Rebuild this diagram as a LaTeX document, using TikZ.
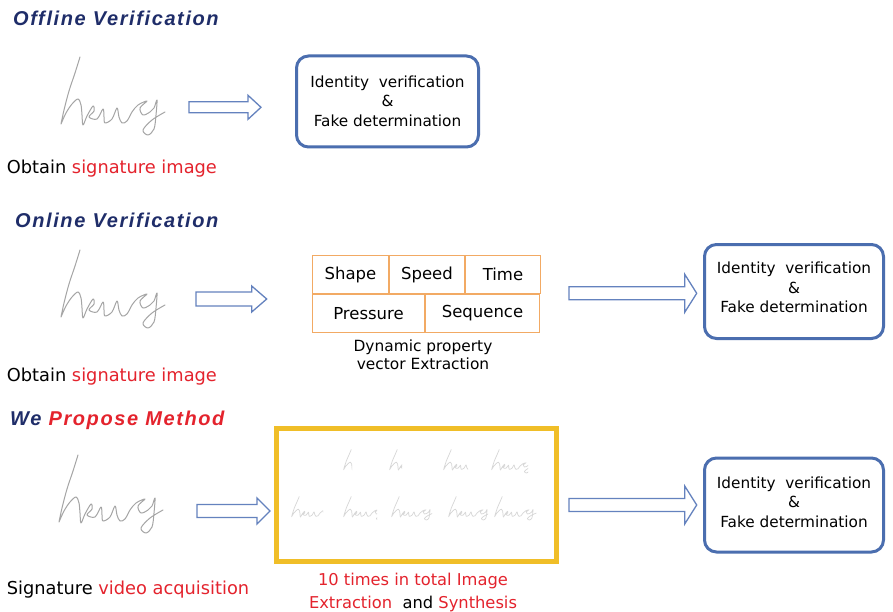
\documentclass[tikz,border=0pt]{standalone}
\usepackage{fontspec}
\setmainfont{DejaVu Sans}
\newfontfamily\titlefont[LetterSpace=8]{Liberation Sans}
\usetikzlibrary{calc}
\definecolor{navy}{RGB}{31,45,105}
\definecolor{redtxt}{RGB}{228,35,45}
\definecolor{boxblue}{RGB}{75,110,175}
\definecolor{arrowblue}{RGB}{100,130,190}
\definecolor{tableorange}{RGB}{242,170,100}
\definecolor{gold}{RGB}{240,190,40}
\definecolor{sigcol}{RGB}{165,165,165}
\definecolor{faintsig}{RGB}{215,215,215}
\tikzset{
  headtxt/.style={anchor=base west, inner sep=0pt, text=navy,
    font=\titlefont\bfseries\itshape\fontsize{20}{22}\selectfont},
  sublabel/.style={anchor=base west, inner sep=0pt, font=\fontsize{17.8}{20}\selectfont},
  resultbox/.style={draw=boxblue, line width=3pt, rounded corners=12pt, inner sep=0pt},
  boxtxt/.style={align=center, inner sep=0pt, font=\fontsize{15.3}{19.5}\selectfont},
  cell/.style={draw=tableorange, line width=1pt, minimum height=38pt,
    inner sep=0pt, anchor=north west, font=\fontsize{16.5}{18}\selectfont},
  captxt/.style={anchor=base, inner sep=0pt, font=\fontsize{15.4}{18}\selectfont},
  redcap/.style={anchor=base, inner sep=0pt, text=redtxt, font=\fontsize{16.3}{18}\selectfont},
  blockarrow/.style={draw=arrowblue, line width=1.3pt, fill=white, line join=miter},
  sigline/.style={draw=sigcol, line width=1pt, line cap=round, line join=round},
  faintline/.style={draw=faintsig, line width=0.7pt, line cap=round, line join=round},
}
\newcommand{\hongsig}[2]{%
  \draw[#1] plot[smooth, tension=0.55] coordinates {(28,2) (23,18) (17,36) (12,55) (9,69)}
    plot[smooth, tension=0.55] coordinates {(9,69) (14,58) (20,49) (26,44) (29,50) (30,60) (31,70)
      (35,61) (41,51) (42,56) (37,62) (45,64) (51,54) (52,62) (53,68) (60,64) (65,53) (67,62)
      (70,68) (75,66) (80,57) (86,50) (95,46) (88,53) (91,60) (98,57) (102,53) (105,45)
      (104,60) (102,74) (96,80) (91,75) (100,65) (113,57)};}
\newcommand{\blockarr}[5]{%
  \draw[blockarrow] ($(#1)+(0,#3)$) -- ($(#2)+(-#5,#3)$) -- ($(#2)+(-#5,#4)$) -- (#2)
    -- ($(#2)+(-#5,-#4)$) -- ($(#2)+(-#5,-#3)$) -- ($(#1)+(0,-#3)$) -- cycle;}
\newcommand{\faintfrag}[3]{%
  \begin{scope}
    \clip (#1,#2) rectangle ++(#3,30);
    \hongsig{faintline, shift={(#1,#2)}, xscale=0.4, yscale=0.3}{}
  \end{scope}}
\begin{document}
\begin{tikzpicture}[x=1pt, y=-1pt]
\fill[white] (0,0) rectangle (893,612);
\useasboundingbox (0,0) rectangle (893,612);

% ---------- Offline ----------
\node[headtxt] (t1) at (13,26) {Offline Verification};
\hongsig{sigline, shift={(52,55)}}{}
\node[resultbox, minimum width=182pt, minimum height=91pt] (box1) at (387.5,101.5) {};
\node[boxtxt] (box1t) at ($(box1.center)+(0,-0.5)$) {Identity~ verification\\\&\\Fake determination};
\coordinate (a1s) at (189,107.3);
\coordinate (a1e) at (261,107.3);
\blockarr{a1s}{a1e}{5.5}{12}{13}
\node[sublabel] (l1) at (6.7,174) {Obtain \textcolor{redtxt}{signature image}};

% ---------- Online ----------
\node[headtxt] (t2) at (15,228) {Online Verification};
\hongsig{sigline, shift={(52,248)}}{}
\coordinate (a2s) at (196,299);
\coordinate (a2e) at (266.7,299);
\blockarr{a2s}{a2e}{7}{13}{15}
\node[cell, minimum width=76pt] (shape) at (312,255) {Shape};
\node[cell, minimum width=75pt] (speed) at (shape.north east) {Speed};
\node[cell, minimum width=75pt] (time) at (speed.north east) {Time};
\node[cell, minimum width=112pt] (press) at (shape.south west) {Pressure};
\node[cell, minimum width=114pt] (seq) at (press.north east) {Sequence};
\node[captxt] (d1) at (423,351.5) {Dynamic property};
\node[captxt] (d2) at (423,369.5) {vector Extraction};
\coordinate (a3s) at (569,293.3);
\coordinate (a3e) at (696.7,293.3);
\blockarr{a3s}{a3e}{6.5}{19}{12}
\node[resultbox, minimum width=179pt, minimum height=94pt] (box2) at (794,291.5) {};
\node[boxtxt] (box2t) at ($(box2.center)+(0,-4)$) {Identity~ verification\\\&\\Fake determination};
\node[sublabel] (l2) at (6.7,381.7) {Obtain \textcolor{redtxt}{signature image}};

% ---------- Proposed ----------
\node[headtxt] (t3) at (10,425) {We \textcolor{redtxt}{Propose Method}};
\hongsig{sigline, shift={(50,453)}}{}
\coordinate (a4s) at (197,511);
\coordinate (a4e) at (270,511);
\blockarr{a4s}{a4e}{6.5}{13}{13}
\node[draw=gold, line width=5pt, minimum width=280pt, minimum height=133pt, inner sep=0pt]
  (frames) at (416.5,495) {};
% faint frames, row 1
\faintfrag{340}{449}{12}
\faintfrag{386}{449}{16}
\faintfrag{440}{449}{28}
\faintfrag{488}{449}{40}
% faint frames, row 2
\faintfrag{288}{496}{35}
\faintfrag{340}{496}{37}
\faintfrag{388}{496}{44}
\faintfrag{445}{496}{43}
\faintfrag{491}{496}{52}
\node[redcap] (c1) at (413,585.7) {10 times in total Image};
\node[redcap] (c2) at (413,608) {Extraction~ \textcolor{black}{and} Synthesis};
\coordinate (a5s) at (569,505);
\coordinate (a5e) at (696.7,505);
\blockarr{a5s}{a5e}{6.5}{19}{12}
\node[resultbox, minimum width=179pt, minimum height=94pt] (box3) at (794,505) {};
\node[boxtxt] (box3t) at ($(box3.center)+(0,-3)$) {Identity~ verification\\\&\\Fake determination};
\node[sublabel] (l3) at (6.7,594.5) {Signature \textcolor{redtxt}{video acquisition}};
\end{tikzpicture}
\end{document}
